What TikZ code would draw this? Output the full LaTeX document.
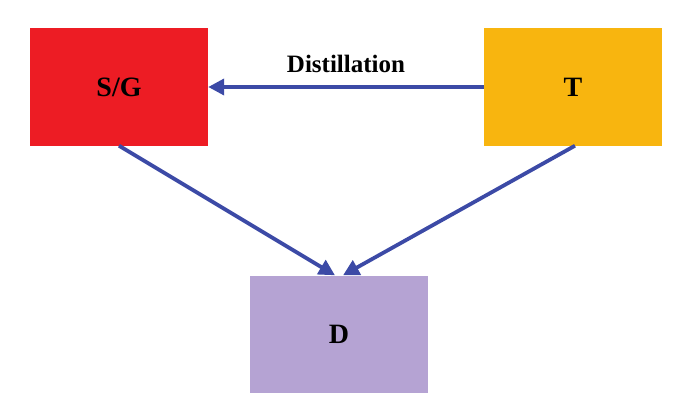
\documentclass[tikz,border=0pt]{standalone}
\usepackage{fontspec}
\setmainfont{Liberation Serif}
\usetikzlibrary{arrows.meta}
\definecolor{sgred}{HTML}{ED1C24}
\definecolor{torange}{HTML}{F8B50F}
\definecolor{dpurple}{HTML}{B5A3D3}
\definecolor{arrowblue}{HTML}{3C4AA6}

\begin{document}
\begin{tikzpicture}[x=1pt,y=-1pt,
  box/.style={minimum width=178pt,minimum height=117pt,inner sep=0pt,
    font=\fontsize{28}{32}\selectfont\bfseries},
  flow/.style={draw=arrowblue,line width=3.8pt,-{Triangle[length=16pt,width=16pt]}}]
  \useasboundingbox (0,0) rectangle (676,412);
  \node[box,fill=sgred] (sg) at (119,87) {S/G};
  \node[box,fill=torange] (t) at (573,87) {T};
  \node[box,fill=dpurple] (d) at (339,334) {D};
  \draw[flow] (t.west) -- node[above=9pt,font=\fontsize{25}{29}\selectfont\bfseries] {Distillation} (sg.east);
  \draw[flow] (sg.south) -- ([xshift=-4pt]d.north);
  \draw[flow] ([xshift=2pt]t.south) -- ([xshift=4pt]d.north);
\end{tikzpicture}
\end{document}
